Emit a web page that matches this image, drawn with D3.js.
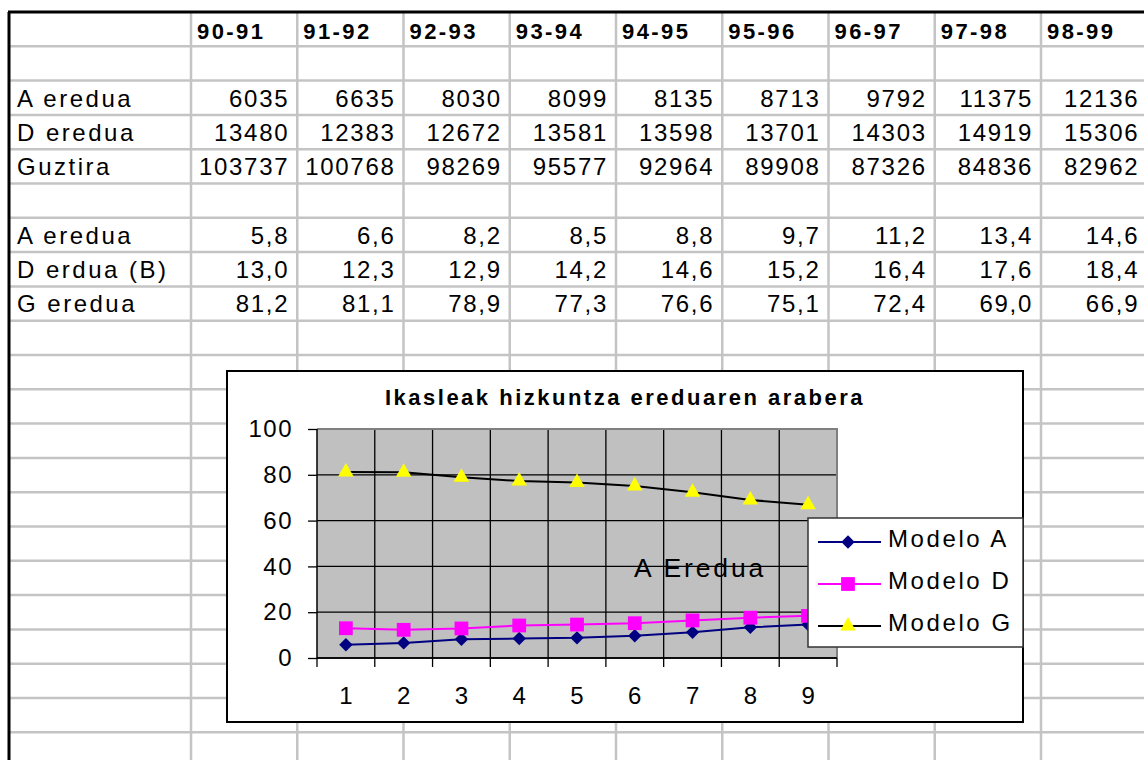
<!DOCTYPE html>
<html><head><meta charset="utf-8">
<script src="https://cdn.jsdelivr.net/npm/d3@7"></script>
<style>
html,body{margin:0;padding:0;background:#fff;}
svg{display:block;font-family:"Liberation Sans",Arial,sans-serif;}
</style></head>
<body>
<svg id="c" width="1144" height="760"></svg>
<script>
// ---- data ----
const years = ["90-91","91-92","92-93","93-94","94-95","95-96","96-97","97-98","98-99"];
const countLabels = ["A eredua","D eredua","Guztira"];
const countA = [6035,6635,8030,8099,8135,8713,9792,11375,12136];
const countD = [13480,12383,12672,13581,13598,13701,14303,14919,15306];
const countTotal = [103737,100768,98269,95577,92964,89908,87326,84836,82962];
const pctLabels = ["A eredua","D erdua (B)","G eredua"];
const pctA = [5.8,6.6,8.2,8.5,8.8,9.7,11.2,13.4,14.6];
const pctD = [13.0,12.3,12.9,14.2,14.6,15.2,16.4,17.6,18.4];
const pctG = [81.2,81.1,78.9,77.3,76.6,75.1,72.4,69.0,66.9];
const categories = ["1","2","3","4","5","6","7","8","9"];
const yTicks = [0,20,40,60,80,100];
const seriesNames = ["Modelo A","Modelo D","Modelo G"];
const chartTitle = "Ikasleak hizkuntza ereduaren arabera";
const annotation = "A Eredua";

const svg = d3.select("#c");
const W = 1144, H = 760;

// ---- spreadsheet grid ----
const tableLeft = 9, tableTop = 12, rowH = 34.3, firstColRight = 191, colW = 106.25;
const nRows = Math.ceil((H - tableTop) / rowH) + 1;
const colX = d3.scaleLinear().domain([0, 1]).range([firstColRight, firstColRight + colW]);
const grid = svg.append("g");
const gridColor = "#c4c4c4";
for (let r = 1; r <= nRows; r++) {
  grid.append("line").attr("x1", tableLeft).attr("x2", W)
    .attr("y1", tableTop + r * rowH).attr("y2", tableTop + r * rowH)
    .attr("stroke", gridColor).attr("stroke-width", 2.5);
}
for (let c = 0; c <= years.length; c++) {
  grid.append("line").attr("x1", colX(c)).attr("x2", colX(c))
    .attr("y1", tableTop).attr("y2", H)
    .attr("stroke", gridColor).attr("stroke-width", 2.5);
}
grid.append("line").attr("x1", tableLeft - 1).attr("x2", W).attr("y1", tableTop).attr("y2", tableTop)
  .attr("stroke", "#000").attr("stroke-width", 3);
grid.append("line").attr("x1", tableLeft).attr("x2", tableLeft).attr("y1", tableTop).attr("y2", H)
  .attr("stroke", "#000").attr("stroke-width", 3);

const cellText = svg.append("g").attr("fill", "#000");
years.forEach((y, i) => {
  cellText.append("text").attr("x", colX(i) + 6).attr("y", tableTop + 27)
    .attr("font-size", 22).attr("font-weight", "bold").attr("letter-spacing", 2.4).text(y);
});
function writeRow(rowIdx, label, vals, fmt) {
  const base = tableTop + rowIdx * rowH + 26;
  cellText.append("text").attr("x", 17).attr("y", base)
    .attr("font-size", 24).attr("letter-spacing", 2.5).text(label);
  vals.forEach((v, i) => {
    cellText.append("text").attr("x", colX(i + 1) - 8).attr("y", base)
      .attr("text-anchor", "end").attr("font-size", 24).attr("letter-spacing", 1.7).text(fmt(v));
  });
}
const intFmt = v => String(v);
const pctFmt = v => d3.format(".1f")(v).replace(".", ",");
writeRow(2, countLabels[0], countA, intFmt);
writeRow(3, countLabels[1], countD, intFmt);
writeRow(4, countLabels[2], countTotal, intFmt);
writeRow(6, pctLabels[0], pctA, pctFmt);
writeRow(7, pctLabels[1], pctD, pctFmt);
writeRow(8, pctLabels[2], pctG, pctFmt);

// ---- embedded chart ----
const chart = { x: 227, y: 371, w: 796, h: 351 };
const plot = { left: 317, right: 837, top: 429, bottom: 658 };
const cg = svg.append("g");
cg.append("rect").attr("x", chart.x).attr("y", chart.y).attr("width", chart.w).attr("height", chart.h)
  .attr("fill", "#fff").attr("stroke", "#000").attr("stroke-width", 2);

const x = d3.scaleBand().domain(categories).range([plot.left, plot.right]).padding(0);
const y = d3.scaleLinear().domain([0, 100]).range([plot.bottom, plot.top]);

cg.append("text").attr("x", 625).attr("y", 405)
  .attr("text-anchor", "middle").attr("font-size", 22).attr("font-weight", "bold")
  .attr("letter-spacing", 2.5).text(chartTitle);

cg.append("rect").attr("x", plot.left).attr("y", plot.top)
  .attr("width", plot.right - plot.left).attr("height", plot.bottom - plot.top)
  .attr("fill", "#c0c0c0");

cg.append("g").selectAll("line").data(yTicks).join("line")
  .attr("x1", plot.left).attr("x2", plot.right)
  .attr("y1", d => y(d)).attr("y2", d => y(d))
  .attr("stroke", "#000").attr("stroke-width", 1.3);
const bounds = categories.map(c => x(c)).concat([x(categories[categories.length - 1]) + x.bandwidth()]);
cg.append("g").selectAll("line").data(bounds.slice(1, -1)).join("line")
  .attr("x1", d => d).attr("x2", d => d).attr("y1", plot.top).attr("y2", plot.bottom)
  .attr("stroke", "#000").attr("stroke-width", 1.3);
cg.append("path")
  .attr("d", `M${plot.left},${plot.top}H${plot.right}V${plot.bottom}`)
  .attr("fill", "none").attr("stroke", "#808080").attr("stroke-width", 2);

const yAxis = d3.axisLeft(y).tickValues(yTicks).tickSize(9).tickPadding(15);
const ya = cg.append("g").attr("transform", `translate(${plot.left},0)`).call(yAxis);
ya.select(".domain").attr("stroke", "#000").attr("stroke-width", 1.5).attr("d", `M0,${plot.top}V${plot.bottom}`);
ya.selectAll(".tick line").attr("stroke", "#000").attr("stroke-width", 1.3);
ya.selectAll(".tick text").attr("font-size", 24).attr("letter-spacing", 1.5)
  .attr("font-family", "Liberation Sans, Arial, sans-serif").attr("fill", "#000");

const xa = cg.append("g").attr("transform", `translate(0,${plot.bottom})`);
xa.append("line").attr("x1", plot.left).attr("x2", plot.right).attr("y1", 0).attr("y2", 0)
  .attr("stroke", "#000").attr("stroke-width", 1.5);
xa.selectAll(".tk").data(bounds).join("line").attr("class", "tk")
  .attr("x1", d => d).attr("x2", d => d).attr("y1", 0).attr("y2", 9)
  .attr("stroke", "#000").attr("stroke-width", 1.3);
xa.selectAll(".lb").data(categories).join("text").attr("class", "lb")
  .attr("x", d => x(d) + x.bandwidth() / 2).attr("y", 46)
  .attr("text-anchor", "middle").attr("font-size", 24).text(d => d);

cg.append("text").attr("x", 634).attr("y", 577).attr("font-size", 26.5).attr("letter-spacing", 2.9)
  .attr("fill", "#000").text(annotation);

// custom square diamond
const diamond = { draw(ctx, size) { const r = Math.sqrt(size / 2); ctx.moveTo(0, -r); ctx.lineTo(r, 0); ctx.lineTo(0, r); ctx.lineTo(-r, 0); ctx.closePath(); } };
const series = [
  { name: seriesNames[0], values: pctA, stroke: "#000080", fill: "#000080", sym: diamond, size: 90 },
  { name: seriesNames[1], values: pctD, stroke: "#ff00ff", fill: "#ff00ff", sym: d3.symbolSquare, size: 190 },
  { name: seriesNames[2], values: pctG, stroke: "#000000", fill: "#ffff00", sym: d3.symbolTriangle, size: 105 }
];
const cx = (d, i) => x(categories[i]) + x.bandwidth() / 2;
const line = d3.line().x((d, i) => cx(d, i)).y(d => y(d));
series.forEach(s => {
  cg.append("path").attr("d", line(s.values)).attr("fill", "none")
    .attr("stroke", s.stroke).attr("stroke-width", 2);
});
series.forEach(s => {
  cg.append("g").selectAll("path").data(s.values).join("path")
    .attr("transform", (d, i) => `translate(${cx(d, i)},${y(d)})`)
    .attr("d", d3.symbol().type(s.sym).size(s.size)())
    .attr("fill", s.fill);
});

const lg = cg.append("g");
lg.append("rect").attr("x", 808).attr("y", 518).attr("width", 215).attr("height", 129)
  .attr("fill", "#fff").attr("stroke", "#333").attr("stroke-width", 1.5);
series.forEach((s, i) => {
  const ly = 542 + i * 42;
  lg.append("line").attr("x1", 818).attr("x2", 881).attr("y1", ly).attr("y2", ly)
    .attr("stroke", s.stroke).attr("stroke-width", 2);
  lg.append("path").attr("transform", `translate(848,${ly})`)
    .attr("d", d3.symbol().type(s.sym).size(s.size)()).attr("fill", s.fill);
  lg.append("text").attr("x", 888).attr("y", ly + 5).attr("font-size", 24)
    .attr("letter-spacing", 2.6).attr("fill", "#000").text(s.name);
});
</script>
</body></html>
